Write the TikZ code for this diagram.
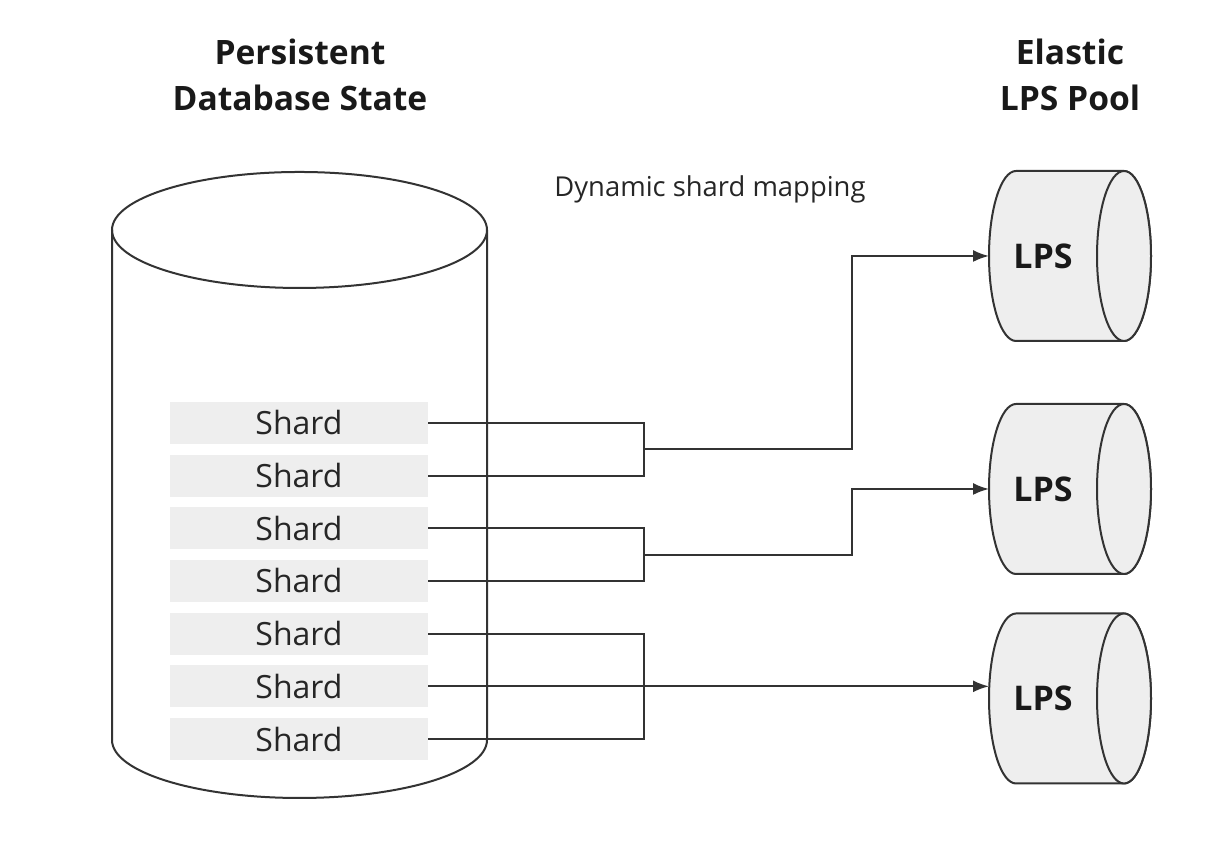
\documentclass[tikz,border=0pt]{standalone}
\usepackage{fontspec}
\setmainfont{Open Sans}
\usetikzlibrary{arrows.meta,calc}

\definecolor{shardgray}{HTML}{EEEEEE}
\definecolor{linegray}{HTML}{333333}

\tikzset{
  shard/.style={fill=shardgray,minimum width=129pt,minimum height=21pt,inner sep=0pt,
    font=\fontsize{16}{19}\selectfont,text=black!85},
  conn/.style={draw=linegray,line width=1pt},
  arr/.style={conn,-{Latex[length=8pt,width=6pt]}},
  head/.style={align=center,font=\fontsize{16.8}{23}\selectfont\bfseries,text=black!90},
  lpsbody/.style={fill=shardgray,draw=linegray,line width=1pt}
}

\begin{document}
\begin{tikzpicture}[x=0.5pt,y=0.5pt]
                \useasboundingbox (0,0) rectangle (1222,854);

                \node[head] (dbtitle) at (300,779) {Persistent\\Database State};
                \node[head] (pooltitle) at (1070,779) {Elastic\\LPS Pool};
                \node[anchor=base,font=\fontsize{13.7}{17}\selectfont,text=black!85] (maplabel) at (710,657) {Dynamic shard mapping};

                % database cylinder
                \draw[conn] (112,624) -- (112,114) arc[start angle=180,end angle=360,x radius=187.5,y radius=58] -- (487,624);
                \draw[conn] (299.5,624) ellipse[x radius=187.5,y radius=58];

                \foreach \i in {1,...,7}
                {
                \node[shard] (S\i) at (299,{431-(\i-1)*52.67}) {Shard};
                }

                % LPS pool
                \foreach \i/\y in {1/598,2/365,3/155.5}
                {
                \draw[lpsbody] (1016,\y+85) -- (1124,\y+85) arc[start angle=90,end angle=-90,x radius=27,y radius=85]
                    -- (1016,\y-85) arc[start angle=270,end angle=90,x radius=27,y radius=85] -- cycle;
                \draw[lpsbody] (1124,\y) ellipse[x radius=27,y radius=85];
                \node[font=\fontsize{17}{20}\selectfont\bfseries,text=black!90] (L\i) at (1043,\y) {LPS};
                \coordinate (C\i) at (989,\y);
                \coordinate (B\i) at (852,\y);
                }

                \coordinate (J1) at (644,404.7);
                \coordinate (J2) at (644,299.3);
                \coordinate (J3) at (644,167.7);

                \draw[conn] (S1.east) -| (J1) |- (S2.east);
                \draw[conn] (S3.east) -| (J2) |- (S4.east);
                \draw[conn] (S5.east) -| (J3) |- (S7.east);

                \draw[arr] (J1) -| (B1) -- (C1);
                \draw[arr] (J2) -| (B2) -- (C2);
                \draw[arr] (S6.east) -- (S6.east -| C3);

            \end{tikzpicture}
\end{document}
